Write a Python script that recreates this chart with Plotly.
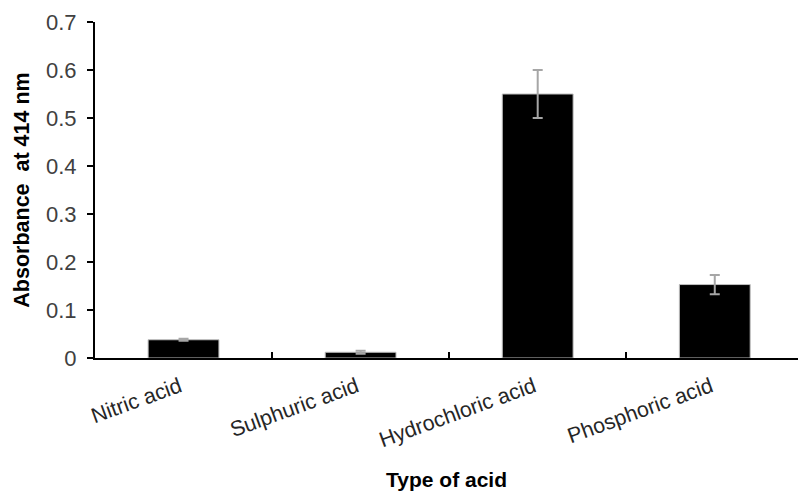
import plotly.graph_objects as go

# Absorbance readings per acid with standard error
acids = ["Nitric acid", "Sulphuric acid", "Hydrochloric acid", "Phosphoric acid"]
absorbance = [0.038, 0.012, 0.55, 0.153]
std_err = [0.002, 0.003, 0.05, 0.02]
y_ticks = [0, 0.1, 0.2, 0.3, 0.4, 0.5, 0.6, 0.7]
y_tick_text = ["0", "0.1", "0.2", "0.3", "0.4", "0.5", "0.6", "0.7"]

font_family = "Liberation Sans, Arial, sans-serif"

fig = go.Figure(
    go.Bar(
        x=acids,
        y=absorbance,
        width=0.4,
        marker=dict(color="black", line=dict(color="#bfbfbf", width=1)),
        error_y=dict(type="data", array=std_err, visible=True,
                     color="#a6a6a6", thickness=2, width=5),
    )
)

fig.update_layout(
    width=798,
    height=492,
    margin=dict(l=95, r=0, t=22, b=134),
    paper_bgcolor="white",
    plot_bgcolor="white",
    showlegend=False,
    font=dict(family=font_family, color="#404040"),
    xaxis=dict(
        range=[-0.5, 3.47],
        showline=True, linecolor="black", linewidth=2,
        ticks="inside", tickson="boundaries", ticklen=6, tickwidth=2, tickcolor="black",
        tickangle=-20, ticklabelstandoff=6, ticklabelshift=-4,
        tickfont=dict(size=21.5, color="#262626"),
        showgrid=False, zeroline=False,
        title=dict(text="<b>Type of acid</b>", font=dict(size=21, color="black"), standoff=21),
    ),
    yaxis=dict(
        range=[0, 0.7],
        tickvals=y_ticks, ticktext=y_tick_text,
        showline=True, linecolor="black", linewidth=2,
        ticks="outside", ticklen=6, tickwidth=2, tickcolor="black",
        ticklabelstandoff=6,
        tickfont=dict(size=22, color="#404040"),
        showgrid=False, zeroline=False,
        title=dict(text="<b>Absorbance  at 414 nm</b>", font=dict(size=21.5, color="black"), standoff=10),
    ),
)

fig.write_html("out.html")
